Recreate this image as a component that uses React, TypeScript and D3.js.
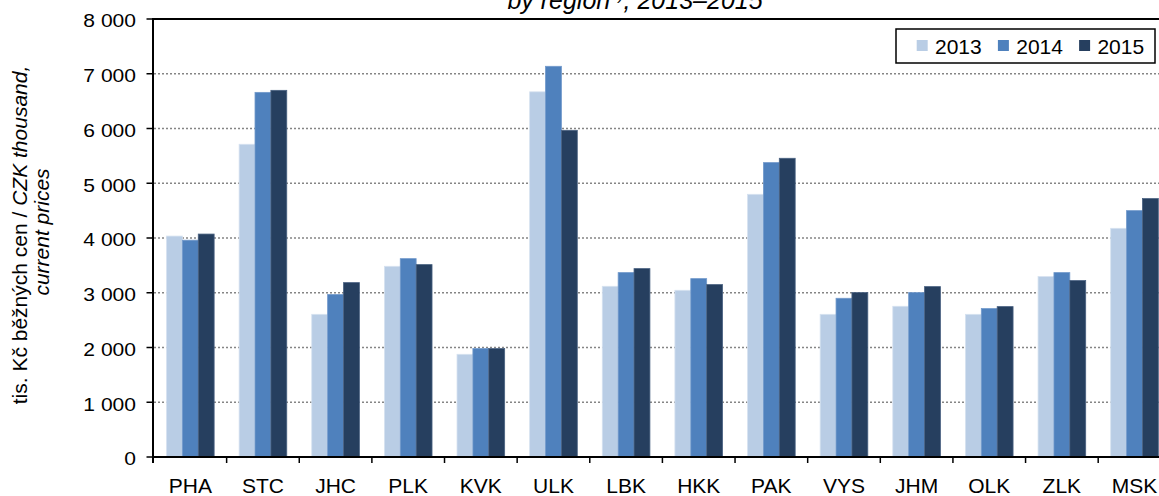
import * as d3 from "d3";

const regions = ["PHA", "STC", "JHC", "PLK", "KVK", "ULK", "LBK", "HKK", "PAK", "VYS", "JHM", "OLK", "ZLK", "MSK"];
const years = ["2013", "2014", "2015"];
const v2013 = [4035, 5712, 2606, 3483, 1876, 6670, 3118, 3045, 4798, 2606, 2753, 2606, 3295, 4177];
const v2014 = [3960, 6660, 2968, 3623, 1980, 7136, 3368, 3258, 5377, 2899, 3003, 2711, 3368, 4500];
const v2015 = [4072, 6697, 3185, 3514, 1980, 5967, 3441, 3149, 5456, 3003, 3112, 2747, 3222, 4720];
const yTicks = [0, 1000, 2000, 3000, 4000, 5000, 6000, 7000, 8000];

const series = [v2013, v2014, v2015];
const colors = ["#B9CDE5", "#4F81BD", "#263F5F"];
const edges = ["#d6e2f0", "#7299cb", "#4a6282"];
const font = "'Liberation Sans', Arial, sans-serif";

const fmt = (v: number) => d3.format(",")(v).replace(/,/g, " ");

export default function App() {
  const W = 1159;
  const H = 496;
  const left = 154;
  const band = 72.63;
  const top = 19;
  const bottom = 457;

  const x = d3
    .scaleBand()
    .domain(regions)
    .range([left, left + band * regions.length])
    .padding(0);
  const gap = x.bandwidth() * 0.344;
  const x1 = d3
    .scaleBand()
    .domain(years)
    .range([gap / 2, x.bandwidth() - gap / 2])
    .padding(0);
  const y = d3.scaleLinear().domain([0, 8000]).range([bottom, top]);

  return (
    <svg
      width={W}
      height={H}
      style={{ position: "absolute", left: 0, top: 0, background: "#fff" }}
      fontFamily={font}
    >
      {/* title, clipped at top */}
      <text x={635} y={9} fontSize={25} fontStyle="italic" textAnchor="middle" fill="#000">
        by region
        <tspan fontSize={15} dy={-9}>1)</tspan>
        <tspan dy={9}>, 2013–2015</tspan>
      </text>

      {/* gridlines */}
      {yTicks
        .filter((t) => t > 0 && t < 8000)
        .map((t) => (
          <line
            key={"g" + t}
            x1={left}
            x2={W}
            y1={y(t)}
            y2={y(t)}
            stroke="#858585"
            strokeWidth={1.5}
            strokeDasharray="2,2"
          />
        ))}
      <line x1={152} x2={W} y1={y(8000)} y2={y(8000)} stroke="#000" strokeWidth={1.8} />

      {/* bars */}
      {regions.map((r, i) => (
        <g key={r} transform={`translate(${x(r)},0)`}>
          {years.map((yr, j) => (
            <rect
              key={yr}
              x={x1(yr)}
              y={y(series[j][i])}
              width={x1.bandwidth()}
              height={y(0) - y(series[j][i])}
              fill={colors[j]}
              stroke={edges[j]}
              strokeWidth={0.8}
            />
          ))}
        </g>
      ))}

      {/* y axis */}
      <line x1={153} x2={153} y1={top - 1} y2={bottom + 6} stroke="#000" strokeWidth={2} />
      {yTicks.map((t) => (
        <g key={"y" + t}>
          <line x1={146.5} x2={153} y1={y(t)} y2={y(t)} stroke="#000" strokeWidth={1.5} />
          <text
            transform={`translate(136,${y(t) + 8.4}) scale(1.17,1)`}
            fontSize={18}
            textAnchor="end"
            fill="#000"
          >
            {fmt(t)}
          </text>
        </g>
      ))}

      {/* x axis */}
      <line x1={152} x2={W} y1={bottom} y2={bottom} stroke="#000" strokeWidth={2} />
      {regions.map((r) => (
        <g key={"x" + r}>
          <line x1={x(r)! + band} x2={x(r)! + band} y1={bottom} y2={bottom + 6} stroke="#000" strokeWidth={1.5} />
          <text x={x(r)! + band / 2} y={493} fontSize={21} textAnchor="middle" fill="#000">
            {r}
          </text>
        </g>
      ))}

      {/* y axis title */}
      <text transform="translate(27,235) rotate(-90)" fontSize={21} textAnchor="middle" fill="#000">
        tis. Kč běžných cen / <tspan fontStyle="italic">CZK thousand,</tspan>
      </text>
      <text
        transform="translate(49,232) rotate(-90)"
        fontSize={21}
        fontStyle="italic"
        textAnchor="middle"
        fill="#000"
      >
        current prices
      </text>

      {/* legend */}
      <rect x={896} y={29} width={259} height={34} fill="#fff" stroke="#000" strokeWidth={1.5} />
      {years.map((yr, j) => (
        <g key={"l" + yr} transform={`translate(${916.7 + j * 81.2},0)`}>
          <rect x={0} y={40} width={11} height={11} fill={colors[j]} />
          <text x={18.3} y={54} fontSize={21} fill="#000">
            {yr}
          </text>
        </g>
      ))}
    </svg>
  );
}
